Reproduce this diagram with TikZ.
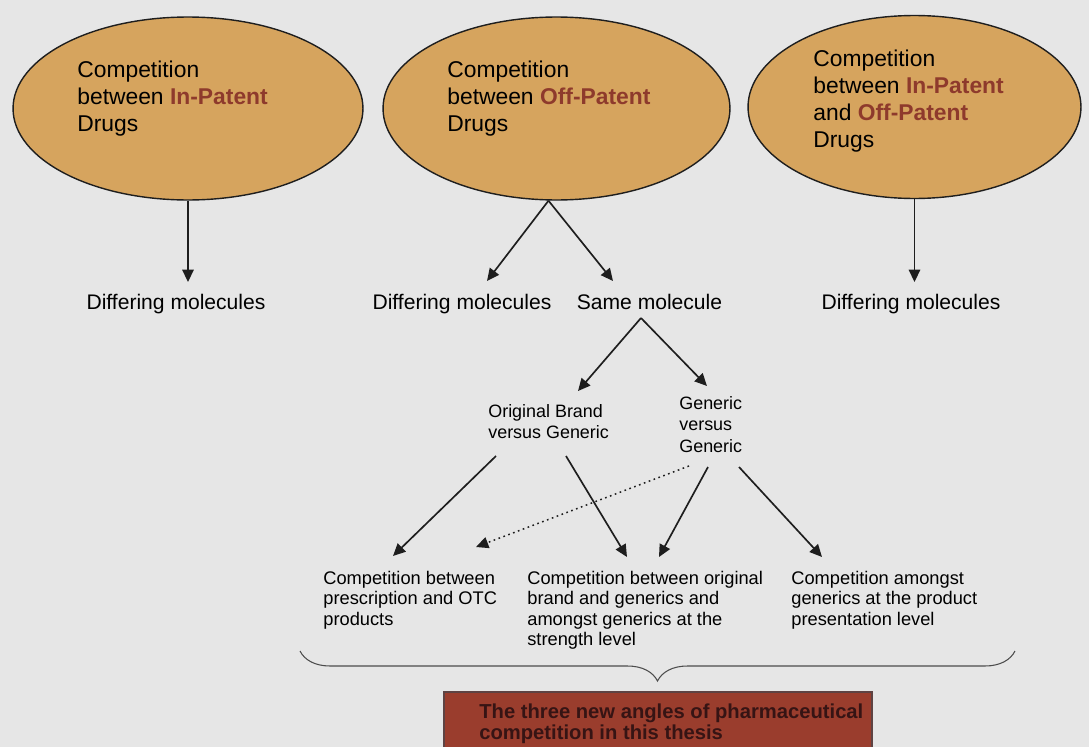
\documentclass[tikz,border=0pt]{standalone}
\usepackage{fontspec}
\setmainfont{Liberation Sans}
\usepackage{tikz}
\usetikzlibrary{arrows.meta,positioning,calc,shapes.geometric,decorations.pathreplacing}
\definecolor{paper}{HTML}{E6E6E6}
\definecolor{ochre}{HTML}{D6A45E}
\definecolor{rust}{HTML}{8E3A2C}
\definecolor{brick}{HTML}{9A3D2D}
\definecolor{brickink}{HTML}{361414}
\definecolor{inkline}{HTML}{1E1E1E}
\newcommand{\patent}[1]{\textcolor{rust}{\textbf{#1}}}

\begin{document}
\begin{tikzpicture}[x=0.02cm,y=-0.02cm,
  oval/.style={ellipse,draw=inkline,fill=ochre,line width=0.8pt,inner sep=0pt,minimum height=3.66cm},
  ovaltxt/.style={anchor=north west,inner sep=0pt,align=left,font=\fontsize{13}{15.2}\selectfont},
  leaf/.style={anchor=base,inner sep=0pt,font=\fontsize{12}{14}\selectfont},
  pairtxt/.style={anchor=north west,inner sep=0pt,align=left,font=\fontsize{10.2}{12.2}\selectfont},
  angletxt/.style={anchor=north west,inner sep=0pt,align=left,font=\fontsize{10.4}{11.6}\selectfont},
  arr/.style={-{Triangle[length=7pt,width=6.5pt]},line width=0.95pt,draw=inkline},
  dotarr/.style={arr,dotted,line width=0.85pt},
  curly/.style={decorate,decoration={brace,amplitude=0.6cm},draw=black!70,line width=0.6pt}]
  \useasboundingbox (0,0) rectangle (1089,747);
  \fill[paper] (0,0) rectangle (1089,747);

  % the three kinds of competition
  \node[oval,minimum width=7cm] (inpat) at (188,108.5) {};
  \node[oval,minimum width=6.94cm] (offpat) at (556.5,108.5) {};
  \node[oval,minimum width=6.66cm] (mixpat) at (914.5,107) {};
  \node[ovaltxt] (inpatTxt) at (77,61) {Competition\\between \patent{In-Patent}\\Drugs};
  \node[ovaltxt] (offpatTxt) at (447,61) {Competition\\between \patent{Off-Patent}\\Drugs};
  \node[ovaltxt] (mixpatTxt) at (813,50) {Competition\\between \patent{In-Patent}\\and \patent{Off-Patent}\\Drugs};

  \node[leaf] (dm1) at (176,309) {Differing molecules};
  \node[leaf] (dm2) at (462,309) {Differing molecules};
  \node[leaf] (same) at (649.5,309) {Same molecule};
  \node[leaf] (dm3) at (911,309) {Differing molecules};

  \node[pairtxt] (obvg) at (488,404) {Original Brand\\versus Generic};
  \node[pairtxt] (gvg) at (679,396) {Generic\\versus\\Generic};

  \node[angletxt] (rxotc) at (323,571) {Competition between\\prescription and OTC\\products};
  \node[angletxt] (strength) at (527,571) {Competition between original\\brand and generics and\\amongst generics at the\\strength level};
  \node[angletxt] (present) at (791,571) {Competition amongst\\generics at the product\\presentation level};

  \draw[arr] (inpat.south) -- ($(inpat.south |- dm1.base)+(0,-27)$);
  \draw[arr] ($(offpat.south)+(-8,0)$) -- ($(dm2.base)+(25,-28)$);
  \draw[arr] ($(offpat.south)+(-8,0)$) -- ($(same.base)+(-36.5,-28)$);
  \draw[arr] (mixpat.south) -- ($(mixpat.south |- dm3.base)+(0,-27)$);

  \draw[arr] ($(same.base)+(-8.5,9)$) -- ($(obvg.north west)+(90,-13)$);
  \draw[arr] ($(same.base)+(-8.5,9)$) -- ($(gvg.north west)+(28,-10)$);

  \draw[arr] ($(obvg.north west)+(8,52)$) -- ($(rxotc.north west)+(70,-15)$);
  \draw[arr] ($(obvg.north west)+(78,52)$) -- ($(strength.north west)+(100,-14)$);
  \draw[dotarr] ($(gvg.north west)+(10,70)$) -- ($(rxotc.north west)+(153,-24)$);
  \draw[arr] ($(gvg.north west)+(29,71)$) -- ($(strength.north west)+(132,-14)$);
  \draw[arr] ($(gvg.north west)+(60,71)$) -- ($(present.north west)+(31,-14)$);

  % brace and the outcome box
  \coordinate (braceR) at (1015,651);
  \coordinate (braceL) at (300,651);
  \draw[curly] (braceR) -- (braceL);
  \path[fill=brick,draw=brickink!80,line width=0.8pt] (444,692) rectangle (872,770);
  \node[anchor=north west,inner sep=0pt,align=left,text=brickink,font=\fontsize{11.5}{11.4}\selectfont\bfseries] (angles) at (479,704) {The three new angles of pharmaceutical\\competition in this thesis};
\end{tikzpicture}
\end{document}
